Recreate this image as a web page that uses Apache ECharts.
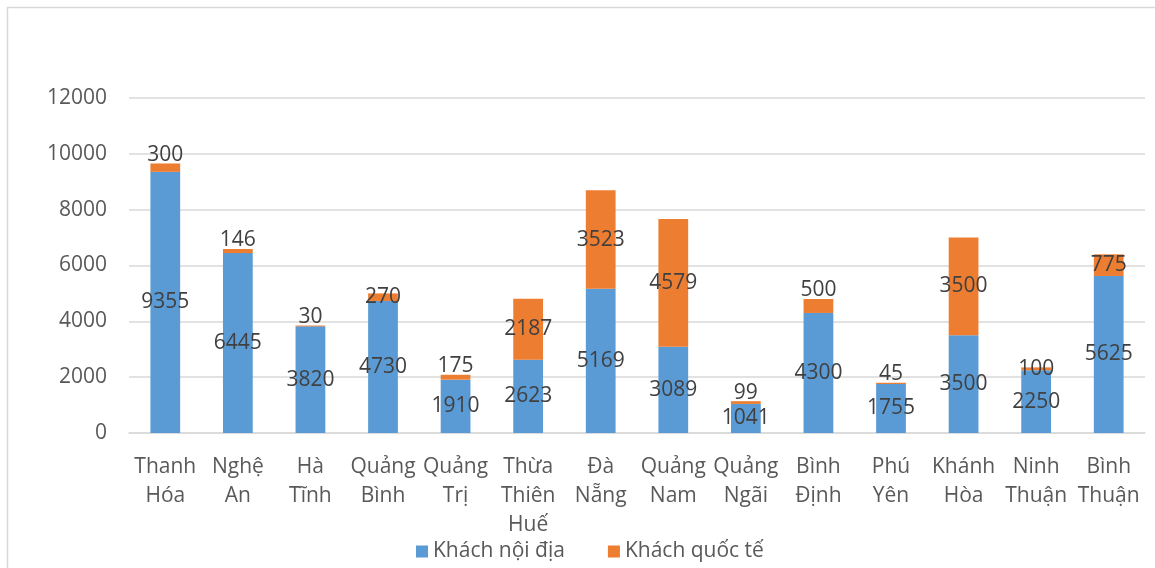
<!DOCTYPE html>
<html>
<head>
<meta charset="utf-8">
<script src="https://cdn.jsdelivr.net/npm/echarts@6/dist/echarts.min.js"></script>
<style>
html,body{margin:0;padding:0;background:#fff;}
#chart{width:1155px;height:568px;}
</style>
</head>
<body>
<div id="chart"></div>
<script>
const categories = ['Thanh\nHóa','Nghệ\nAn','Hà\nTĩnh','Quảng\nBình','Quảng\nTrị','Thừa\nThiên\nHuế','Đà\nNẵng','Quảng\nNam','Quảng\nNgãi','Bình\nĐịnh','Phú\nYên','Khánh\nHòa','Ninh\nThuận','Bình\nThuận'];
const domestic = [9355, 6445, 3820, 4730, 1910, 2623, 5169, 3089, 1041, 4300, 1755, 3500, 2250, 5625];
const international = [300, 146, 30, 270, 175, 2187, 3523, 4579, 99, 500, 45, 3500, 100, 775];
const seriesNames = ['Khách nội địa', 'Khách quốc tế'];
const yTicks = {min: 0, max: 12000, interval: 2000};

const FONT = 'Open Sans';
const chart = echarts.init(document.getElementById('chart'), null, {renderer: 'canvas'});
const labelStyle = {show: true, position: 'inside', color: '#404040', fontSize: 21, fontFamily: FONT};
// small segments: label sits just above the bar (as in the reference), except a few left centred
const centredSmall = [270, 100];
const intlData = international.map(v => (v < 600 && centredSmall.indexOf(v) < 0)
  ? {value: v, label: {position: 'top', distance: -2}}
  : v);
chart.setOption({
  animation: false,
  textStyle: {fontFamily: FONT},
  graphic: [{
    type: 'rect', silent: true,
    shape: {x: 7.5, y: 7.5, width: 1200, height: 700},
    style: {fill: 'none', stroke: '#d9d9d9', lineWidth: 1.5}
  }],
  grid: {left: 129, right: 10, top: 98, bottom: 135},
  legend: {
    bottom: 1, left: 411,
    itemWidth: 12, itemHeight: 12, itemGap: 43,
    icon: 'rect',
    textStyle: {color: '#595959', fontSize: 21, fontFamily: FONT},
    data: seriesNames
  },
  xAxis: {
    type: 'category', data: categories,
    axisLine: {lineStyle: {color: '#d9d9d9', width: 1.5}},
    axisTick: {show: false},
    axisLabel: {color: '#595959', fontSize: 21, fontFamily: FONT, lineHeight: 29, margin: 20, interval: 0}
  },
  yAxis: {
    type: 'value', min: yTicks.min, max: yTicks.max, interval: yTicks.interval,
    axisLine: {show: false}, axisTick: {show: false},
    splitLine: {lineStyle: {color: '#d9d9d9', width: 1.5}},
    axisLabel: {color: '#595959', fontSize: 21, fontFamily: FONT, margin: 22, formatter: v => String(v)}
  },
  series: [
    {name: seriesNames[0], type: 'bar', stack: 'total', data: domestic, barWidth: '41%',
     itemStyle: {color: '#5B9BD5'}, label: labelStyle},
    {name: seriesNames[1], type: 'bar', stack: 'total', data: intlData, barWidth: '41%',
     itemStyle: {color: '#ED7D31'}, label: labelStyle}
  ]
});
</script>
</body>
</html>
